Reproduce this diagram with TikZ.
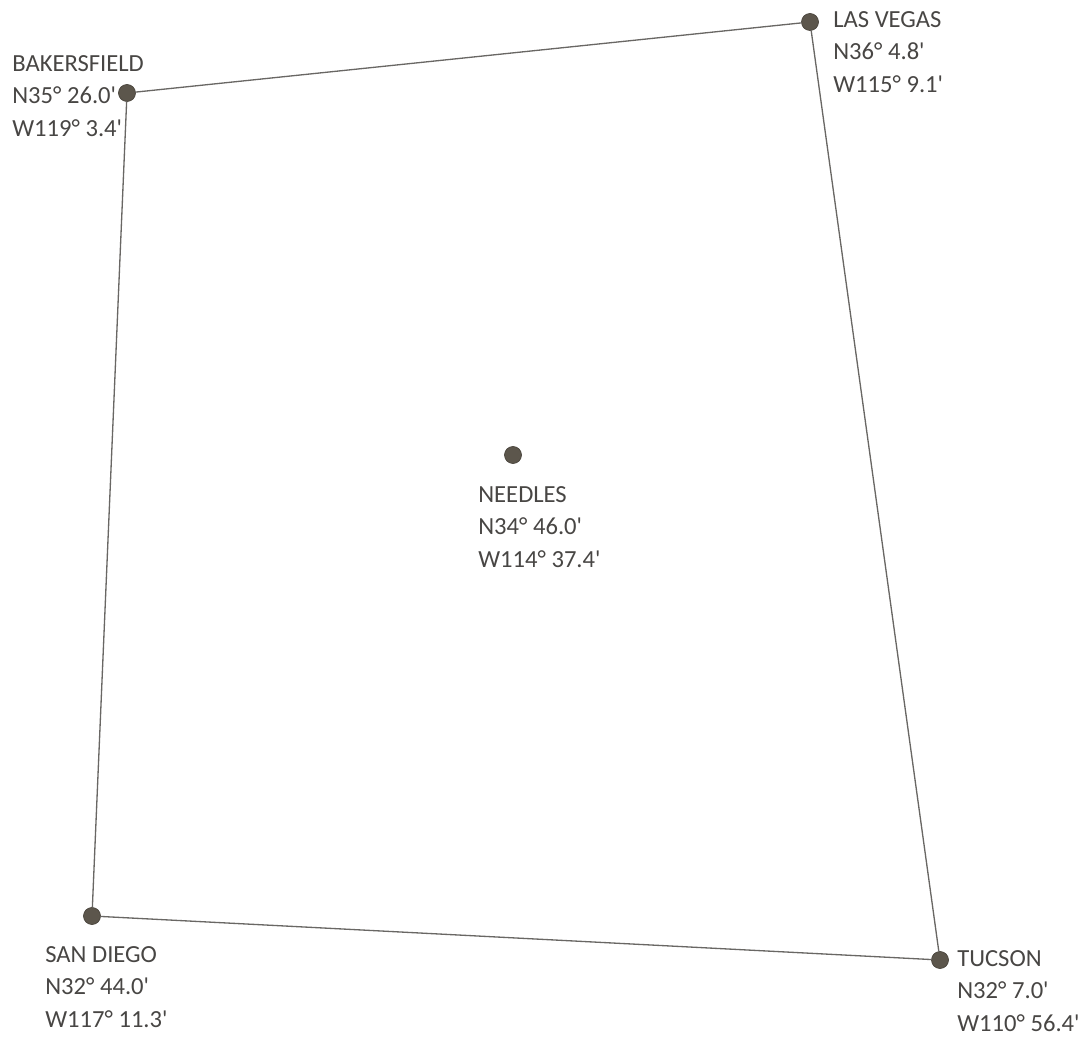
\documentclass[tikz,border=0pt]{standalone}
\usepackage{fontspec}
\setmainfont{Carlito}
\usetikzlibrary{positioning}
\definecolor{ink}{RGB}{72,70,68}
\definecolor{route}{RGB}{105,103,100}
\definecolor{dotfill}{RGB}{92,86,76}
\newcommand{\mins}{\textquotesingle}

\begin{document}
\begin{tikzpicture}[
    x=0.02cm,
    y=-0.02cm,
    line cap=round,
    line join=round,
    town/.style={
      circle,
      draw=dotfill!80!black,
      fill=dotfill,
      line width=0.4pt,
      minimum size=0.34cm,
      inner sep=0pt
    },
    townlabel/.style={
      anchor=west,
      align=left,
      inner sep=0pt,
      text=ink,
      font=\fontsize{14}{18.7}\selectfont
    },
    road/.style={
      draw=route,
      line width=0.75pt
    }
]

% Frame of the reference picture.
\useasboundingbox (0,0) rectangle (1083,1037);

% Towns.
\node[town] (bakersfield) at (127,93) {};
\node[town] (lasvegas) at (810,22) {};
\node[town] (needles) at (513,455) {};
\node[town] (sandiego) at (92,916) {};
\node[town] (tucson) at (940,960) {};

% The four-sided route; Needles stands alone inside it.
\draw[road] (bakersfield) -- (lasvegas);
\draw[road] (lasvegas) -- (tucson);
\draw[road] (tucson) -- (sandiego);
\draw[road] (sandiego) -- (bakersfield);

% Names and coordinates.
\node[townlabel] (bakersfieldtext) at (12,96)
  {BAKERSFIELD\\N35° 26.0\mins\\W119° 3.4\mins};
\node[townlabel] (lasvegastext) at (833,52)
  {LAS VEGAS\\N36° 4.8\mins\\W115° 9.1\mins};
\node[townlabel] (needlestext) at (478,527)
  {NEEDLES\\N34° 46.0\mins\\W114° 37.4\mins};
\node[townlabel] (sandiegotext) at (45,987)
  {SAN DIEGO\\N32° 44.0\mins\\W117° 11.3\mins};
\node[townlabel] (tucsontext) at (957,991)
  {TUCSON\\N32° 7.0\mins\\W110° 56.4\mins};

\end{tikzpicture}
\end{document}
